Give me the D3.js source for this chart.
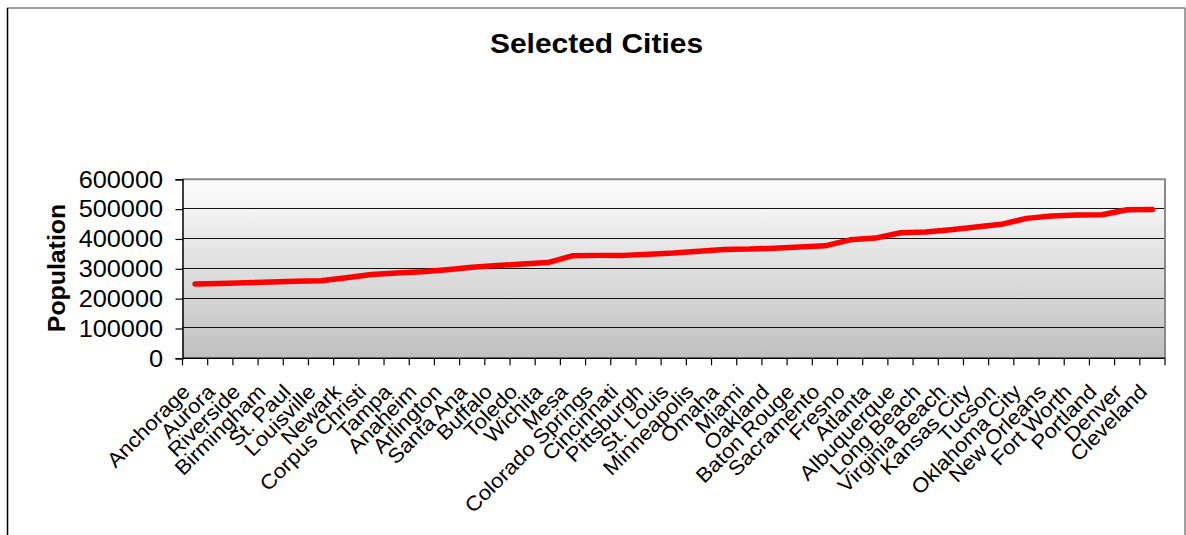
<!DOCTYPE html>
<html>
<head>
<meta charset="utf-8">
<script src="https://cdn.jsdelivr.net/npm/d3@7/dist/d3.min.js"></script>
<style>
  html, body { margin: 0; padding: 0; background: #fff; }
  svg { display: block; }
</style>
</head>
<body>
<div id="chart"></div>
<script>
// ── Data ─────────────────────────────────────────────
var cities = [
  'Anchorage', 'Aurora', 'Riverside', 'Birmingham', 'St. Paul', 'Louisville',
  'Newark', 'Corpus Christi', 'Tampa', 'Anaheim', 'Arlington', 'Santa Ana',
  'Buffalo', 'Toledo', 'Wichita', 'Mesa', 'Colorado Springs', 'Cincinnati',
  'Pittsburgh', 'St. Louis', 'Minneapolis', 'Omaha', 'Miami', 'Oakland',
  'Baton Rouge', 'Sacramento', 'Fresno', 'Atlanta', 'Albuquerque', 'Long Beach',
  'Virginia Beach', 'Kansas City', 'Tucson', 'Oklahoma City', 'New Orleans',
  'Fort Worth', 'Portland', 'Denver', 'Cleveland'
];
var population = [
  249000, 251000, 253000, 256000, 258000, 260000,
  270000, 281000, 286000, 290000, 297000, 305000,
  311000, 316000, 321000, 344000, 345000, 345000,
  349000, 353000, 359000, 365000, 366000, 369000,
  373000, 377000, 397000, 403000, 421000, 423000,
  431000, 440000, 449000, 469000, 477000,
  480000, 481000, 498000, 499000
];
var yTicks = [0, 100000, 200000, 300000, 400000, 500000, 600000];

var W = 1186, H = 535;
var plot = { left: 182.5, right: 1165, top: 179.3, bottom: 358.3 };

var svg = d3.select('#chart').append('svg')
  .attr('width', W)
  .attr('height', H);

var defs = svg.append('defs');
var grad = defs.append('linearGradient')
  .attr('id', 'plot-bg')
  .attr('x1', 0).attr('y1', 0).attr('x2', 0).attr('y2', 1);
grad.append('stop').attr('offset', '0%').attr('stop-color', '#fdfdfd');
grad.append('stop').attr('offset', '100%').attr('stop-color', '#c0c0c0');

// ── Outer chart frame ────────────────────────────────
svg.append('line')
  .attr('x1', 7).attr('y1', 8).attr('x2', 1185).attr('y2', 8)
  .attr('stroke', '#808080').attr('stroke-width', 1.5);
svg.append('line')
  .attr('x1', 1185).attr('y1', 8).attr('x2', 1185).attr('y2', H)
  .attr('stroke', '#808080').attr('stroke-width', 1.5);
svg.append('line')
  .attr('x1', 7.5).attr('y1', 8).attr('x2', 7.5).attr('y2', H)
  .attr('stroke', '#000').attr('stroke-width', 1.5);

// ── Scales ───────────────────────────────────────────
var x = d3.scaleBand()
  .domain(cities)
  .range([plot.left, plot.right])
  .padding(0);

var y = d3.scaleLinear()
  .domain([0, 600000])
  .range([plot.bottom, plot.top]);

// stretched text helper (glyphs in the reference are a bit wide)
function stretchedText(parent, px, py, rot, sx) {
  return parent.append('text')
    .attr('transform', 'translate(' + px + ',' + py + ') rotate(' + rot + ') scale(' + sx + ',1)')
    .attr('font-family', 'Liberation Sans, Arial, sans-serif')
    .attr('fill', '#000');
}

// ── Plot background ──────────────────────────────────
svg.append('rect')
  .attr('x', plot.left)
  .attr('y', plot.top)
  .attr('width', plot.right - plot.left)
  .attr('height', plot.bottom - plot.top)
  .attr('fill', 'url(#plot-bg)');

// gridlines
svg.append('g')
  .selectAll('line')
  .data(yTicks.filter(function(d) { return d > 0 && d < 600000; }))
  .enter()
  .append('line')
  .attr('x1', plot.left).attr('x2', plot.right)
  .attr('y1', function(d) { return Math.round(y(d)) - 0.5; })
  .attr('y2', function(d) { return Math.round(y(d)) - 0.5; })
  .attr('stroke', '#111')
  .attr('stroke-width', 1);

// plot border (top / right gray)
svg.append('path')
  .attr('d', 'M' + plot.left + ',' + plot.top + 'H' + plot.right + 'V' + plot.bottom)
  .attr('fill', 'none')
  .attr('stroke', '#8a8a8a')
  .attr('stroke-width', 2);

// ── Y axis ───────────────────────────────────────────
var yAxis = d3.axisLeft(y)
  .tickValues(yTicks)
  .tickSize(7)
  .tickFormat('');
var yG = svg.append('g')
  .attr('transform', 'translate(' + plot.left + ',0)')
  .call(yAxis);
yG.select('.domain').attr('stroke', '#000').attr('stroke-width', 1.5);
yG.selectAll('.tick line').attr('stroke', '#000').attr('stroke-width', 1.2);

yTicks.forEach(function(v) {
  stretchedText(svg, 163, y(v) + 8.3, 0, 1.1)
    .attr('font-size', 23)
    .attr('text-anchor', 'end')
    .text(v);
});

// ── X axis ───────────────────────────────────────────
var xG = svg.append('g')
  .attr('transform', 'translate(0,' + plot.bottom + ')');
xG.append('line')
  .attr('x1', plot.left).attr('x2', plot.right)
  .attr('y1', 0).attr('y2', 0)
  .attr('stroke', '#000').attr('stroke-width', 1.5);
xG.selectAll('.xtick')
  .data(d3.range(cities.length + 1))
  .enter()
  .append('line')
  .attr('class', 'xtick')
  .attr('x1', function(i) { return plot.left + i * x.bandwidth(); })
  .attr('x2', function(i) { return plot.left + i * x.bandwidth(); })
  .attr('y1', 0).attr('y2', 7)
  .attr('stroke', '#000').attr('stroke-width', 1.2);

cities.forEach(function(c) {
  var cx = x(c) + x.bandwidth() / 2;
  stretchedText(svg, cx - 4, 393, -45, 1.08)
    .attr('font-size', 20.5)
    .attr('text-anchor', 'end')
    .text(c);
});

// ── Line ─────────────────────────────────────────────
var lineGen = d3.line()
  .x(function(d, i) { return x(cities[i]) + x.bandwidth() / 2; })
  .y(function(d) { return y(d); });

svg.append('path')
  .datum(population)
  .attr('d', lineGen)
  .attr('fill', 'none')
  .attr('stroke', '#ff0000')
  .attr('stroke-width', 5.5)
  .attr('stroke-linejoin', 'round')
  .attr('stroke-linecap', 'round');

// ── Titles ───────────────────────────────────────────
stretchedText(svg, 596.5, 53, 0, 1.07)
  .attr('font-size', 28)
  .attr('font-weight', 'bold')
  .attr('text-anchor', 'middle')
  .text('Selected Cities');

stretchedText(svg, 65, 268, -90, 1.08)
  .attr('font-size', 23)
  .attr('font-weight', 'bold')
  .attr('text-anchor', 'middle')
  .text('Population');
</script>
</body>
</html>
